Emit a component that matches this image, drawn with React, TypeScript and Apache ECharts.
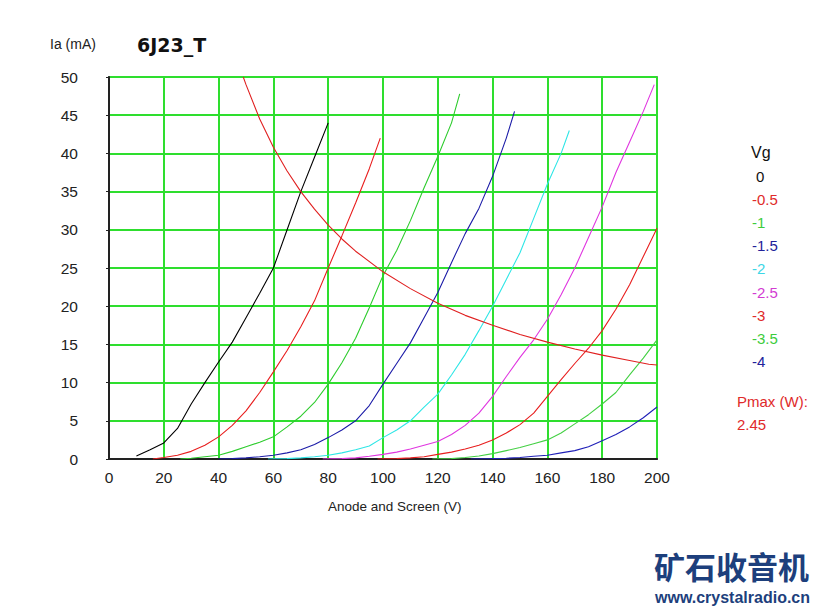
import React, { useEffect, useRef } from "react";
import * as echarts from "echarts";

const xTicks = [0, 20, 40, 60, 80, 100, 120, 140, 160, 180, 200];
const yTicks = [0, 5, 10, 15, 20, 25, 30, 35, 40, 45, 50];

const gridVoltages = ["0", "-0.5", "-1", "-1.5", "-2", "-2.5", "-3", "-3.5", "-4"];
const curveColors = ["#000000", "#e81e1e", "#2ecc2e", "#1c1ca8", "#2ee6e6", "#e036e0", "#e81e1e", "#44d044", "#2020b8"];
const labelColors = ["#111111", "#e02a2a", "#3ccc3c", "#22229a", "#3cd6e6", "#d23cd2", "#e02a2a", "#3ccc3c", "#22229a"];

const vg0 = [[10, 0.4], [15, 1.2], [20, 2.1], [25, 4], [30, 7.2], [35, 10], [40, 12.7], [45, 15.3], [50, 18.5], [55, 21.7], [60, 25], [65, 30], [70, 35], [75, 39.5], [80, 44]];
const vgM05 = [[16, 0], [20, 0.2], [25, 0.5], [30, 1], [35, 1.8], [40, 2.9], [45, 4.4], [50, 6.3], [55, 8.7], [60, 11.4], [65, 14.2], [70, 17.3], [75, 20.7], [80, 25], [85, 29.2], [90, 33.5], [95, 38], [99, 42]];
const vgM1 = [[26, 0], [30, 0.1], [35, 0.3], [40, 0.5], [45, 1], [50, 1.6], [55, 2.2], [60, 2.9], [65, 4.2], [70, 5.6], [75, 7.4], [80, 9.8], [85, 12.6], [90, 15.8], [95, 19.8], [100, 24], [105, 27.3], [110, 31.2], [115, 35.5], [120, 39.6], [125, 44], [128, 47.8]];
const vgM15 = [[40, 0], [45, 0.05], [50, 0.15], [55, 0.3], [60, 0.5], [65, 0.8], [70, 1.2], [75, 1.9], [80, 2.8], [85, 3.8], [90, 5], [95, 7], [100, 9.8], [105, 12.5], [110, 15.2], [115, 18.5], [120, 21.8], [125, 25.7], [130, 29.5], [135, 32.8], [140, 37], [145, 42], [148, 45.5]];
const vgM2 = [[58, 0], [65, 0.05], [70, 0.15], [75, 0.3], [80, 0.5], [85, 0.8], [90, 1.2], [95, 1.7], [100, 2.8], [105, 3.8], [110, 5], [115, 6.8], [120, 8.5], [125, 11], [130, 13.7], [135, 16.8], [140, 20], [145, 23.5], [150, 27], [155, 31.5], [160, 36], [165, 40], [168, 43]];
const vgM25 = [[78, 0], [85, 0.05], [90, 0.15], [95, 0.35], [100, 0.6], [105, 0.9], [110, 1.3], [115, 1.8], [120, 2.3], [125, 3.2], [130, 4.4], [135, 6], [140, 8.2], [145, 10.8], [150, 13.3], [155, 15.6], [160, 18.3], [165, 21.5], [170, 25], [175, 29], [180, 33], [185, 37.5], [190, 41.5], [195, 45.5], [199, 49]];
const vgM3 = [[98, 0], [105, 0.05], [110, 0.15], [115, 0.3], [120, 0.6], [125, 0.9], [130, 1.3], [135, 1.8], [140, 2.5], [145, 3.4], [150, 4.5], [155, 6], [160, 8.2], [165, 10.4], [170, 12.5], [175, 14.5], [180, 16.8], [185, 19.6], [190, 22.8], [195, 26.5], [200, 30.2]];
const vgM35 = [[118, 0], [125, 0.05], [130, 0.2], [135, 0.4], [140, 0.7], [145, 1.1], [150, 1.5], [155, 2], [160, 2.5], [165, 3.4], [170, 4.6], [175, 5.8], [180, 7.2], [185, 8.7], [190, 11], [195, 13.2], [200, 15.6]];
const vgM4 = [[132, 0], [140, 0.05], [145, 0.1], [150, 0.2], [155, 0.35], [160, 0.5], [165, 0.8], [170, 1.1], [175, 1.6], [180, 2.4], [185, 3.2], [190, 4.2], [195, 5.4], [200, 6.8]];
const pmaxCurve = [[49, 50], [50, 49], [55, 44.5], [60, 40.8], [65, 37.7], [70, 35], [75, 32.7], [80, 30.6], [85, 28.8], [90, 27.2], [100, 24.5], [110, 22.3], [120, 20.4], [130, 18.8], [140, 17.5], [150, 16.3], [160, 15.3], [170, 14.4], [180, 13.6], [190, 12.9], [197, 12.4], [200, 12.3]];

const curves = [vg0, vgM05, vgM1, vgM15, vgM2, vgM25, vgM3, vgM35, vgM4];
const pmaxLabel = "Pmax (W):";
const pmaxValue = "2.45";

const FONT = "Liberation Sans";

export default function App() {
  const ref = useRef<HTMLDivElement>(null);
  useEffect(() => {
    if (!ref.current) return;
    const chart = echarts.init(ref.current, null, { renderer: "svg" });
    const series: any[] = curves.map((d, i) => ({
      type: "line",
      name: gridVoltages[i],
      data: d,
      showSymbol: false,
      lineStyle: { color: curveColors[i], width: 1.1 },
      z: 3,
    }));
    series.push({
      type: "line",
      name: "Pmax",
      data: pmaxCurve,
      showSymbol: false,
      lineStyle: { color: "#e02020", width: 1.1 },
      z: 3,
    });
    const legendTexts: any[] = [
      { type: "text", left: 751, top: 144, style: { text: "Vg", font: `16px ${FONT}`, fill: "#111" } },
      ...gridVoltages.map((v, i) => ({
        type: "text",
        left: v.startsWith("-") ? 752 : 756,
        top: 169 + i * 23.1,
        style: { text: v, font: `15px ${FONT}`, fill: labelColors[i] },
      })),
      { type: "text", left: 737, top: 394, style: { text: pmaxLabel, font: `15px ${FONT}`, fill: "#e02a2a" } },
      { type: "text", left: 737, top: 417, style: { text: pmaxValue, font: `15px ${FONT}`, fill: "#e02a2a" } },
      { type: "text", left: 50, top: 37, style: { text: "Ia (mA)", font: `14px ${FONT}`, fill: "#222" } },
      { type: "text", left: 137, top: 35, style: { text: "6J23_T", font: `bold 19px "DejaVu Sans"`, fill: "#111" } },
      { type: "text", left: 328, top: 499, style: { text: "Anode and Screen (V)", font: `13.5px ${FONT}`, fill: "#222" } },
      { type: "text", left: 654, top: 550, style: { text: "矿石收音机", font: `bold 31px "Noto Sans CJK SC"`, fill: "#1d3f7c" } },
      { type: "text", left: 655, top: 589, style: { text: "www.crystalradio.cn", font: `bold 16px ${FONT}`, fill: "#1d3f7c" } },
    ];
    chart.setOption({
      animation: false,
      backgroundColor: "#ffffff",
      grid: { left: 109, right: 164, top: 77, bottom: 153, show: true, borderColor: "#333", borderWidth: 1.5, backgroundColor: "transparent" },
      xAxis: {
        type: "value",
        min: 0,
        max: 200,
        interval: 20,
        axisLine: { show: true, lineStyle: { color: "#222", width: 2 } },
        axisTick: { show: false },
        axisLabel: { color: "#222", fontSize: 15.5, fontFamily: FONT, margin: 10, formatter: (v: number) => (xTicks.includes(v) ? String(v) : "") },
        splitLine: { show: true, lineStyle: { color: "#2ede2e", width: 2 } },
      },
      yAxis: {
        type: "value",
        min: 0,
        max: 50,
        interval: 5,
        axisLine: { show: true, lineStyle: { color: "#222", width: 2 } },
        axisTick: { show: true, length: 3, lineStyle: { color: "#222" } },
        axisLabel: { color: "#222", fontSize: 15.5, fontFamily: FONT, margin: 31, formatter: (v: number) => (yTicks.includes(v) ? String(v) : "") },
        splitLine: { show: true, lineStyle: { color: "#2ede2e", width: 2 } },
      },
      graphic: legendTexts,
      series,
    });
    return () => chart.dispose();
  }, []);
  return <div ref={ref} style={{ position: "absolute", left: 0, top: 0, width: 821, height: 612 }} />;
}
